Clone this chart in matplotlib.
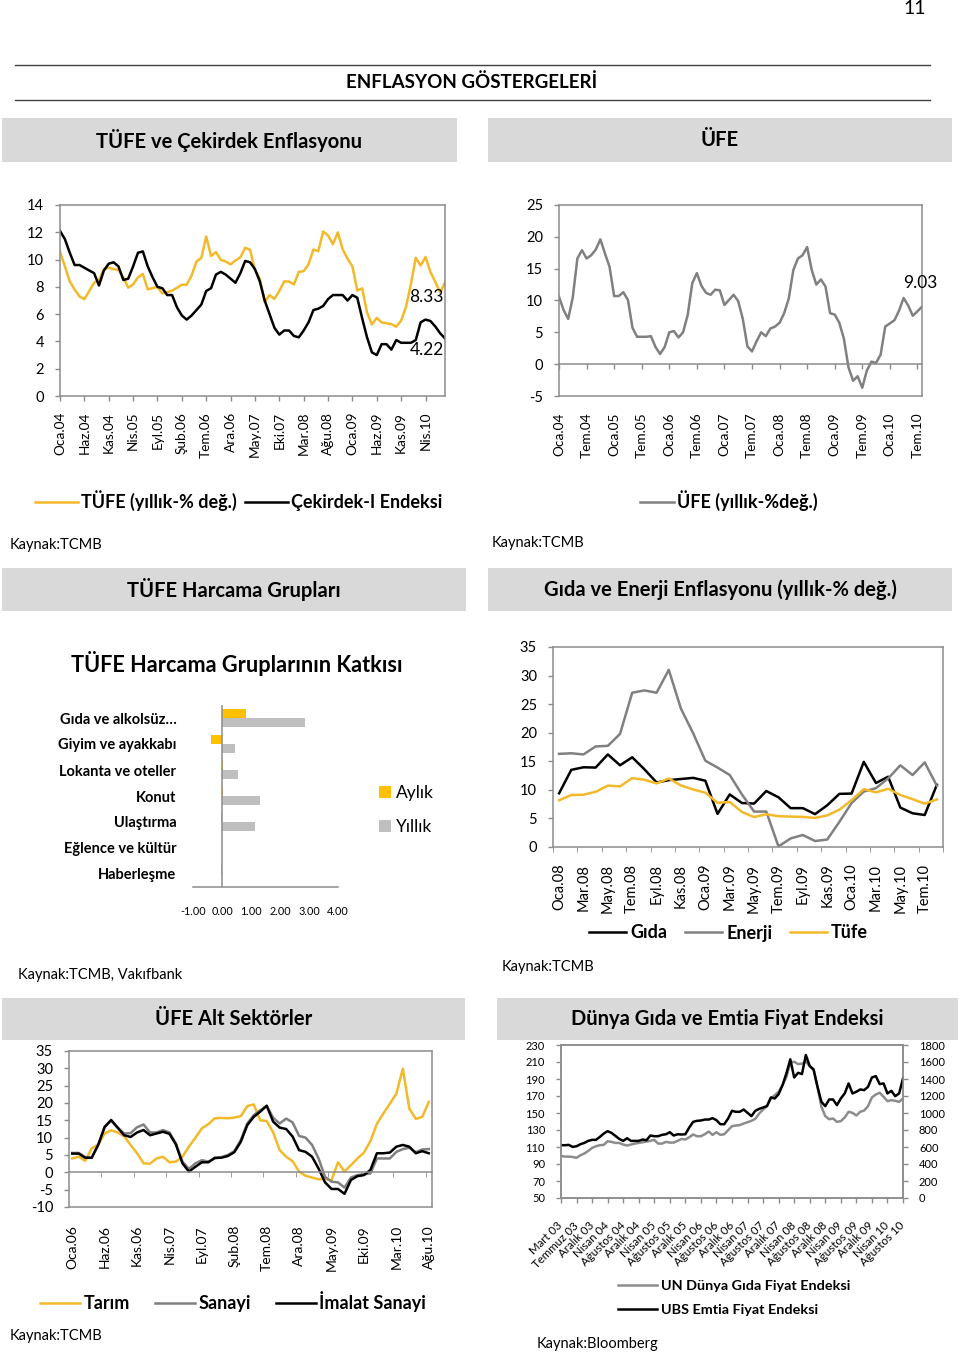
import numpy as np
import matplotlib
matplotlib.use('Agg')
import matplotlib.pyplot as plt
from matplotlib.patches import Rectangle
from matplotlib.lines import Line2D

plt.rcParams['font.family'] = ['Lato', 'DejaVu Sans']
plt.rcParams['axes.unicode_minus'] = False

# --- TÜFE ve çekirdek enflasyon (Oca.04 - Ağu.10) ---
tufe_yillik = [10.6, 9.5, 8.4, 7.8, 7.3, 7.1, 7.7, 8.3, 8.5, 9.3, 9.4, 9.3,
               9.24, 8.69, 7.94, 8.18, 8.70, 8.95, 7.82, 7.91, 7.99, 7.52, 7.61, 7.72,
               7.93, 8.15, 8.16, 8.83, 9.86, 10.12, 11.69, 10.26, 10.55, 9.98, 9.86, 9.65,
               9.93, 10.16, 10.86, 10.72, 9.23, 8.60, 6.90, 7.39, 7.12, 7.70, 8.40, 8.39,
               8.17, 9.10, 9.15, 9.66, 10.74, 10.61, 12.06, 11.77, 11.13, 11.99, 10.76, 10.06,
               9.50, 7.73, 7.89, 6.13, 5.24, 5.73, 5.39, 5.33, 5.27, 5.08, 5.53, 6.53,
               8.19, 10.13, 9.56, 10.19, 9.10, 8.37, 7.58, 8.33]
cekirdek = [12.1, 11.5, 10.5, 9.6, 9.6, 9.4, 9.2, 9.0, 8.1, 9.2,
            9.7, 9.8, 9.5, 8.5, 8.6, 9.5, 10.5, 10.6, 9.5, 8.7,
            8.0, 7.9, 7.4, 7.4, 6.5, 5.9, 5.6, 5.9, 6.3, 6.7,
            7.7, 7.9, 8.9, 9.1, 8.9, 8.6, 8.3, 9.0, 9.9, 9.8,
            9.3, 8.4, 7.0, 6.0, 5.0, 4.5, 4.8, 4.8, 4.4, 4.3,
            4.8, 5.4, 6.3, 6.4, 6.6, 7.1, 7.4, 7.4, 7.4, 7.0,
            7.4, 7.2, 5.7, 4.3, 3.2, 3.0, 3.8, 3.8, 3.4, 4.1,
            3.9, 3.9, 3.9, 4.1, 5.4, 5.6, 5.5, 5.1, 4.6, 4.22]
etiket1 = ['Oca.04', 'Haz.04', 'Kas.04', 'Nis.05', 'Eyl.05', 'Şub.06', 'Tem.06', 'Ara.06',
           'May.07', 'Eki.07', 'Mar.08', 'Ağu.08', 'Oca.09', 'Haz.09', 'Kas.09', 'Nis.10']

# --- ÜFE (Oca.04 - Ağu.10) ---
ufe = [10.6, 8.5, 7.1, 10.5, 16.6, 17.9, 16.6, 17.1, 18.0, 19.6, 17.4, 15.3,
       10.7, 10.7, 11.3, 10.1, 5.7, 4.3, 4.3, 4.3, 4.4, 2.7, 1.6, 2.7,
       5.0, 5.2, 4.2, 5.0, 7.7, 12.7, 14.3, 12.3, 11.2, 10.9, 11.7, 11.6,
       9.3, 10.1, 10.9, 9.9, 7.1, 2.8, 2.0, 3.6, 5.0, 4.4, 5.6, 5.9,
       6.5, 8.0, 10.3, 14.8, 16.6, 17.1, 18.4, 14.8, 12.5, 13.3, 12.2, 8.0,
       7.8, 6.5, 4.0, -0.5, -2.6, -1.9, -3.7, -1.0, 0.4, 0.2, 1.5, 5.9,
       6.4, 6.9, 8.4, 10.4, 9.2, 7.6, 8.3, 9.03]
etiket2 = ['Oca.04', 'Tem.04', 'Oca.05', 'Tem.05', 'Oca.06', 'Tem.06', 'Oca.07',
           'Tem.07', 'Oca.08', 'Tem.08', 'Oca.09', 'Tem.09', 'Oca.10', 'Tem.10']

# --- TÜFE harcama gruplarının katkısı ---
gruplar = ['Gıda ve alkolsüz…', 'Giyim ve ayakkabı', 'Lokanta ve oteller', 'Konut',
           'Ulaştırma', 'Eğlence ve kültür', 'Haberleşme']
aylik = [0.83, -0.37, 0.02, 0.03, -0.02, 0.0, -0.04]
yillik = [2.85, 0.45, 0.55, 1.3, 1.15, 0.0, 0.0]

# --- Gıda ve enerji enflasyonu (Oca.08 - Ağu.10) ---
gida = [9.4, 13.5, 13.95, 13.9, 16.2, 14.3, 15.7, 13.6, 11.3, 11.7, 11.9, 12.1,
        11.6, 5.8, 9.2, 7.7, 7.6, 9.8, 8.7, 6.8, 6.8, 5.75, 7.3, 9.3,
        9.35, 14.9, 11.2, 12.3, 6.9, 5.9, 5.6, 10.9]
enerji = [16.3, 16.4, 16.2, 17.6, 17.7, 19.8, 27.0, 27.4, 27.0, 31.0, 24.2, 19.9,
          15.1, 13.9, 12.6, 9.2, 6.2, 6.2, 0.1, 1.5, 2.1, 1.05, 1.3, 4.4,
          7.7, 9.7, 10.3, 12.0, 14.3, 12.6, 14.8, 10.7]
tufe08 = [8.17, 9.10, 9.15, 9.66, 10.74, 10.61, 12.06, 11.77, 11.13, 11.99, 10.76, 10.06,
          9.50, 7.73, 7.89, 6.13, 5.24, 5.73, 5.39, 5.33, 5.27, 5.08, 5.53, 6.53,
          8.19, 10.13, 9.56, 10.19, 9.10, 8.37, 7.58, 8.33]
etiket4 = ['Oca.08', 'Mar.08', 'May.08', 'Tem.08', 'Eyl.08', 'Kas.08', 'Oca.09', 'Mar.09',
           'May.09', 'Tem.09', 'Eyl.09', 'Kas.09', 'Oca.10', 'Mar.10', 'May.10', 'Tem.10']

# --- ÜFE alt sektörler (Oca.06 - Ağu.10) ---
tarim = [4.0, 4.5, 3.3, 6.9, 8.0, 11.2, 12.1, 11.5, 10.4, 7.9,
         5.5, 2.6, 2.5, 4.0, 4.5, 2.9, 3.1, 4.5, 7.4, 10.0,
         12.7, 13.9, 15.6, 15.7, 15.6, 15.8, 16.2, 19.1, 19.6, 15.0,
         14.8, 11.5, 6.4, 4.5, 3.2, 0.2, -1.0, -1.5, -2.0, -1.9,
         -2.3, 2.9, 0.2, 2.1, 4.0, 5.7, 9.0, 14.0, 17.0, 19.8,
         22.7, 29.9, 18.4, 15.4, 16.0, 20.3]
sanayi = [5.6, 5.6, 4.4, 4.2, 7.9, 13.1, 14.9, 12.9, 11.2, 11.3,
          13.0, 13.8, 11.5, 11.5, 12.2, 11.5, 8.3, 3.1, 1.0, 2.6,
          3.5, 3.1, 4.0, 4.4, 5.0, 6.1, 9.3, 14.1, 16.5, 17.9,
          19.2, 15.7, 14.1, 15.5, 14.4, 10.5, 10.0, 7.9, 4.0, -1.3,
          -2.7, -2.9, -4.4, -1.5, -0.8, -0.6, -0.3, 4.0, 4.0, 4.0,
          5.9, 6.7, 7.1, 5.8, 6.6, 6.7]
imalat = [5.4, 5.4, 4.2, 4.2, 7.9, 13.1, 15.1, 12.9, 10.7, 10.2,
          11.5, 12.2, 10.7, 11.2, 11.7, 11.1, 8.0, 2.6, 0.2, 1.6,
          2.9, 2.9, 4.2, 4.2, 4.7, 5.8, 8.8, 13.6, 16.0, 17.5,
          19.2, 14.6, 12.9, 12.5, 10.3, 6.4, 5.9, 4.5, 1.1, -2.9,
          -4.8, -4.8, -6.2, -2.2, -1.1, -0.8, 0.7, 5.5, 5.5, 5.7,
          7.4, 7.9, 7.4, 5.5, 6.1, 5.5]
etiket5 = ['Oca.06', 'Haz.06', 'Kas.06', 'Nis.07', 'Eyl.07', 'Şub.08', 'Tem.08', 'Ara.08',
           'May.09', 'Eki.09', 'Mar.10', 'Ağu.10']

# --- Dünya gıda ve emtia fiyat endeksi ---
un_gida = [99.5, 98.7, 98.7, 98.3, 97.2, 100.3, 102.3, 105.4, 108.9, 110.9,
           112.1, 112.5, 116.8, 116.0, 114.8, 114.8, 112.9, 111.7, 112.9, 114.0,
           114.8, 115.6, 116.4, 117.2, 118.4, 114.0, 114.0, 116.0, 115.2, 115.2,
           117.2, 119.5, 118.8, 121.5, 124.7, 122.7, 122.7, 125.0, 128.2, 124.3,
           127.4, 124.3, 125.0, 129.8, 134.5, 135.3, 135.7, 137.6, 139.2, 140.8,
           143.1, 149.4, 154.1, 158.1, 167.1, 171.0, 174.9, 182.8, 192.6, 209.1,
           210.3, 207.6, 208.0, 210.3, 205.2, 200.5, 180.8, 157.3, 146.3, 142.7,
           143.5, 139.6, 140.4, 144.7, 151.4, 150.2, 147.1, 151.4, 152.9, 158.1,
           168.3, 171.8, 173.8, 169.1, 163.9, 165.1, 164.3, 163.2, 167.1]
ubs_emtia = [621, 621, 625, 601, 609, 633, 648, 672, 684, 684,
             719, 758, 786, 766, 731, 695, 672, 703, 672, 672,
             672, 688, 680, 735, 727, 727, 743, 750, 774, 735,
             750, 747, 750, 829, 896, 908, 912, 923, 923, 939,
             916, 868, 868, 935, 1026, 1014, 1014, 1041, 1002, 963,
             1026, 1049, 1065, 1081, 1183, 1171, 1222, 1328, 1466, 1631,
             1418, 1473, 1458, 1682, 1552, 1513, 1308, 1132, 1081, 1159,
             1159, 1092, 1171, 1230, 1348, 1230, 1250, 1277, 1269, 1308,
             1418, 1434, 1340, 1348, 1230, 1261, 1198, 1230, 1407]
etiket6 = ['Mart 03', 'Temmuz 03', 'Aralık 03', 'Nisan 04', 'Ağustos 04', 'Aralık 04',
           'Nisan 05', 'Ağustos 05', 'Aralık 05', 'Nisan 06', 'Ağustos 06', 'Aralık 06',
           'Nisan 07', 'Ağustos 07', 'Aralık 07', 'Nisan 08', 'Ağustos 08', 'Aralık 08',
           'Nisan 09', 'Ağustos 09', 'Aralık 09', 'Nisan 10', 'Ağustos 10']

YEL = '#F2BA2A'
BAR_Y = '#FFC000'
BAR_G = '#BFBFBF'
GRY = '#808080'
SPINE = '#8C8C8C'
BOX = '#D9D9D9'

W, H = 960, 1356
fig = plt.figure(figsize=(W / 100, H / 100), dpi=100)


def fx(x):
    return x / W


def fy(y):
    return 1 - y / H


def add_ax(x0, y0, x1, y1):
    return fig.add_axes([fx(x0), fy(y1), (x1 - x0) / W, (y1 - y0) / H])


def txt(x, y, s, **kw):
    kw.setdefault('va', 'center')
    fig.text(fx(x), fy(y), s, **kw)


def box(x0, y0, x1, y1, title):
    fig.add_artist(Rectangle((fx(x0), fy(y1)), (x1 - x0) / W, (y1 - y0) / H,
                             transform=fig.transFigure, color=BOX, lw=0))
    txt((x0 + x1) / 2, (y0 + y1) / 2, title, ha='center', fontsize=14.5, fontweight='bold')


def frame(ax):
    for s in ax.spines.values():
        s.set_color(SPINE)
        s.set_linewidth(1.1)
    ax.tick_params(color=SPINE, length=3.5, width=1, pad=8)


def legend(ax, handles, x, y, size, **kw):
    leg = ax.legend(handles=handles, loc='center left', bbox_to_anchor=(fx(x), fy(y)),
                    bbox_transform=fig.transFigure, frameon=False, borderpad=0,
                    borderaxespad=0, prop={'weight': kw.pop('weight', 'bold'), 'size': size}, **kw)
    return leg


# page header
txt(915, 8, '11', ha='center', fontsize=14)
for yy in (65, 100):
    fig.add_artist(Line2D([fx(15), fx(930)], [fy(yy), fy(yy)], transform=fig.transFigure,
                          color='#404040', lw=1))
txt(472, 82, 'ENFLASYON GÖSTERGELERİ', ha='center', fontsize=13.5, fontweight='bold')

box(2, 118, 457, 162, 'TÜFE ve Çekirdek Enflasyonu')
box(488, 118, 952, 162, 'ÜFE')
box(2, 568, 466, 611, 'TÜFE Harcama Grupları')
box(488, 568, 952, 611, 'Gıda ve Enerji Enflasyonu (yıllık-% değ.)')
box(2, 998, 465, 1040, 'ÜFE Alt Sektörler')
box(497, 998, 958, 1040, 'Dünya Gıda ve Emtia Fiyat Endeksi')

# chart 1: TÜFE ve çekirdek
ax1 = add_ax(60, 205, 445, 396)
x1 = np.arange(len(tufe_yillik))
l_tufe, = ax1.plot(x1, tufe_yillik, color=YEL, lw=1.8, label='TÜFE (yıllık-% değ.)')
l_core, = ax1.plot(x1, cekirdek, color='black', lw=1.8, label='Çekirdek-I Endeksi')
ax1.set_xlim(0, len(x1) - 1)
ax1.set_ylim(0, 14)
ax1.set_yticks(range(0, 15, 2))
ax1.set_xticks(x1[::5], etiket1, rotation=90)
frame(ax1)
ax1.tick_params(axis='x', labelsize=9.8)
ax1.tick_params(axis='y', labelsize=10.5)
ax1.annotate('8.33', xy=(x1[-1], tufe_yillik[-1]), xytext=(-1, -10.3), textcoords='offset points',
             ha='right', va='center', fontsize=12.5)
ax1.annotate('4.22', xy=(x1[-1], cekirdek[-1]), xytext=(-1, -8.4), textcoords='offset points',
             ha='right', va='center', fontsize=12.5)
legend(ax1, [l_tufe, l_core], 35, 501, 13, ncol=2, handlelength=2.4,
       handletextpad=0.15, columnspacing=0.45)
txt(10, 545, 'Kaynak:TCMB', fontsize=10.5)

# chart 2: ÜFE
ax2 = add_ax(559, 205, 922, 396)
x2 = np.arange(len(ufe))
l_ufe, = ax2.plot(x2, ufe, color=GRY, lw=1.8, label='ÜFE (yıllık-%değ.)')
ax2.set_xlim(0, len(x2) - 1)
ax2.set_ylim(-5, 25)
ax2.set_yticks(range(-5, 26, 5))
frame(ax2)
ax2.spines['bottom'].set_position(('data', 0))
ax2.set_xticks(x2[::6])
ax2.tick_params(axis='x', labelbottom=False, length=3.5)
ax2.tick_params(axis='y', labelsize=10.5)
sec2 = ax2.secondary_xaxis('bottom')
sec2.set_xticks(x2[::6], etiket2, rotation=90)
sec2.tick_params(length=0, pad=12, labelsize=9.8)
sec2.spines['bottom'].set_color(SPINE)
sec2.spines['bottom'].set_linewidth(1.1)
ax2.annotate('9.03', xy=(x2[-1], ufe[-1]), xytext=(11, 17), textcoords='offset points',
             ha='right', va='center', fontsize=12.5)
legend(ax2, [l_ufe], 640, 501, 13, handlelength=1.9, handletextpad=0.15)
txt(492, 543, 'Kaynak:TCMB', fontsize=10.5)

# chart 3: harcama grupları katkısı
txt(237, 664, 'TÜFE Harcama Gruplarının Katkısı', ha='center', fontsize=15.6, fontweight='bold')
ax3 = add_ax(193, 705, 338, 887)
yp = np.arange(len(gruplar))
h = 0.33
b_ay = ax3.barh(yp - h / 2, aylik, height=h, color=BAR_Y, label='Aylık')
b_yil = ax3.barh(yp + h / 2, yillik, height=h, color=BAR_G, label='Yıllık')
ax3.set_ylim(len(gruplar) - 0.5, -0.5)
ax3.set_xlim(-1, 4)
ax3.axvline(0, color=SPINE, lw=1.1)
for s in ('top', 'right', 'left'):
    ax3.spines[s].set_visible(False)
ax3.spines['bottom'].set_color(SPINE)
ax3.spines['bottom'].set_linewidth(1.1)
ax3.set_yticks(yp, gruplar, fontweight='bold')
ax3.tick_params(axis='y', length=0, pad=12, labelsize=10.5)
ax3.set_xticks(range(-1, 5), ['%.2f' % v for v in range(-1, 5)])
ax3.tick_params(axis='x', length=0, pad=14, labelsize=7.8)
legend(ax3, [b_ay, b_yil], 379, 810, 12.5, weight='normal', handlelength=0.7,
       handleheight=0.7, handletextpad=0.3, labelspacing=1.07)
txt(18, 975, 'Kaynak:TCMB, Vakıfbank', fontsize=10.5)

# chart 4: gıda ve enerji
ax4 = add_ax(553, 647, 943, 847)
x4 = np.arange(len(gida))
l_g, = ax4.plot(x4, gida, color='black', lw=1.8, label='Gıda')
l_e, = ax4.plot(x4, enerji, color=GRY, lw=1.8, label='Enerji')
l_t, = ax4.plot(x4, tufe08, color=YEL, lw=1.8, label='Tüfe')
ax4.set_xlim(-0.5, len(x4) - 0.5)
ax4.set_ylim(0, 35)
ax4.set_yticks(range(0, 36, 5))
frame(ax4)
ax4.set_xticks(x4[::2], etiket4, rotation=90)
ax4.set_xticks(np.arange(-0.5, len(x4), 2), minor=True)
ax4.tick_params(axis='x', which='major', length=0, pad=12)
ax4.tick_params(axis='x', which='minor', length=3.5, color=SPINE)
ax4.tick_params(labelsize=10.5)
legend(ax4, [l_g, l_e, l_t], 589, 933, 13, ncol=3, handlelength=2.05,
       handletextpad=0.22, columnspacing=1.0)
txt(502, 967, 'Kaynak:TCMB', fontsize=10.5)

# chart 5: ÜFE alt sektörler
ax5 = add_ax(69, 1051, 432, 1207)
x5 = np.arange(len(tarim))
l_ta, = ax5.plot(x5, tarim, color=YEL, lw=1.8, label='Tarım')
l_sa, = ax5.plot(x5, sanayi, color=GRY, lw=1.8, label='Sanayi')
l_im, = ax5.plot(x5, imalat, color='black', lw=1.8, label='İmalat Sanayi')
ax5.set_xlim(-0.5, len(x5) - 0.5)
ax5.set_ylim(-10, 35)
ax5.set_yticks(range(-10, 36, 5))
frame(ax5)
ax5.spines['bottom'].set_position(('data', 0))
ax5.set_xticks([])
ax5.set_xticks(np.arange(4.5, len(x5), 5), minor=True)
ax5.tick_params(axis='x', which='minor', length=3.5, color=SPINE)
ax5.tick_params(axis='y', labelsize=10.5)
sec5 = ax5.secondary_xaxis('bottom')
sec5.set_xticks(x5[::5], etiket5, rotation=90)
sec5.tick_params(length=0, pad=13, labelsize=10)
sec5.spines['bottom'].set_color(SPINE)
sec5.spines['bottom'].set_linewidth(1.1)
legend(ax5, [l_ta, l_sa, l_im], 40, 1302, 13, ncol=3, handlelength=2.2,
       handletextpad=0.2, columnspacing=1.4)
txt(10, 1336, 'Kaynak:TCMB', fontsize=10.5)

# chart 6: dünya gıda ve emtia
ax6 = add_ax(561, 1045, 903, 1198)
x6 = np.arange(len(un_gida))
l_un, = ax6.plot(x6, un_gida, color='#8C8C8C', lw=1.8, label='UN Dünya Gıda Fiyat Endeksi')
ax6.set_xlim(0, len(x6) - 1)
ax6.set_ylim(50, 230)
ax6.set_yticks(range(50, 231, 20))
frame(ax6)
ax6.set_xticks(x6[::4], etiket6, rotation=45, ha='right', va='center', rotation_mode='anchor')
ax6.tick_params(axis='x', pad=15, labelsize=8.3)
ax6.tick_params(axis='y', labelsize=8)
ax6r = ax6.twinx()
l_ubs, = ax6r.plot(x6, ubs_emtia, color='black', lw=1.8, label='UBS Emtia Fiyat Endeksi')
ax6r.set_ylim(0, 1800)
ax6r.set_yticks(range(0, 1801, 200))
frame(ax6r)
ax6r.tick_params(axis='y', labelsize=8)
legend(ax6r, [l_un, l_ubs], 618, 1298, 10.4, handlelength=2.7, handletextpad=0.3,
       labelspacing=0.85)
txt(537, 1344, 'Kaynak:Bloomberg', fontsize=10.5)

fig.savefig('out.png', dpi=100, facecolor='white')
